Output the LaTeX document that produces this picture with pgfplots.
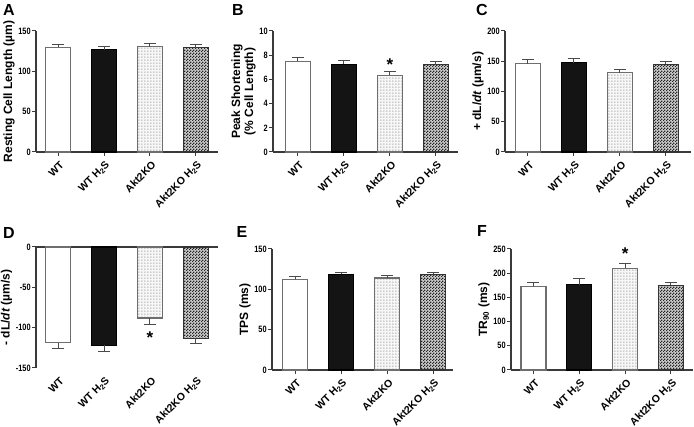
\documentclass[border=0pt]{standalone}
\usepackage{pgfplots}
\pgfplotsset{compat=1.18}
\usepackage{fontspec}
\setmainfont{Liberation Sans}
\newfontfamily\narrowfont[FakeStretch=0.8]{Liberation Sans}
\usetikzlibrary{patterns}
\definecolor{axiscol}{HTML}{3A3A3A}
\definecolor{bordercol}{HTML}{6E6E6E}
\definecolor{errcol}{HTML}{4A4A4A}
\pgfdeclarepatternformonly{finecheck}{\pgfqpoint{0pt}{0pt}}{\pgfqpoint{3pt}{3pt}}{\pgfqpoint{3pt}{3pt}}{%
  \pgfpathrectangle{\pgfqpoint{0pt}{0pt}}{\pgfqpoint{1.5pt}{1.5pt}}%
  \pgfpathrectangle{\pgfqpoint{1.5pt}{1.5pt}}{\pgfqpoint{1.5pt}{1.5pt}}%
  \pgfusepath{fill}}
\pgfdeclarepatternformonly{finedots}{\pgfqpoint{0pt}{0pt}}{\pgfqpoint{2.6pt}{2.6pt}}{\pgfqpoint{2.6pt}{2.6pt}}{%
  \pgfpathrectangle{\pgfqpoint{0.5pt}{0.5pt}}{\pgfqpoint{1pt}{1pt}}%
  \pgfusepath{fill}}
\tikzset{
  sigstar/.style={font=\bfseries\fontsize{17}{17}\selectfont},
  panelletter/.style={font=\bfseries\fontsize{16}{16}\selectfont},
}
\pgfplotsset{
  panel/.style={
    scale only axis, height=121pt,
    axis x line*=bottom, axis y line*=left,
    axis line style={color=axiscol, line width=1.1pt},
    tick align=outside, major tick length=4pt,
    tick style={color=axiscol, line width=1pt},
    xtick={0,1,2,3},
    xticklabels={WT, WT H\textsubscript{2}S, Akt2KO, Akt2KO H\textsubscript{2}S},
    xticklabel style={xshift=4pt, yshift=-7pt, rotate=45, anchor=east, inner sep=0pt, font=\bfseries\fontsize{10.5}{11}\selectfont},
    yticklabel style={font=\narrowfont\bfseries\fontsize{9.2}{9}\selectfont, inner sep=1.2pt},
    /pgf/number format/assume math mode=true,
    ylabel style={font=\bfseries\fontsize{12}{13}\selectfont, align=center, yshift=-1pt},
    enlarge y limits=false, clip=false,
  },
  bar/.style={ybar, bar width=25pt, bar shift=0pt, line width=1.1pt,
    error bars/y explicit, error bars/y dir=#1,
    error bars/error bar style={line width=1pt, color=errcol},
    error bars/error mark options={rotate=90, mark size=6pt, line width=1pt, color=errcol}},
  bar/.default=plus,
  wt/.style={draw=bordercol, fill=white},
  wth/.style={draw=black, fill=black!92},
  ko/.style={draw=bordercol, fill=gray!6, postaction={pattern=finedots, pattern color=gray!85}},
  koh/.style={draw=black!80, fill=gray!40, postaction={pattern=finecheck, pattern color=black!85}},
}
\begin{document}
\begin{tikzpicture}[x=1pt,y=1pt]
\useasboundingbox (0,0) rectangle (694,427);
% A
\begin{axis}[panel, at={(36pt,275pt)}, anchor=south west, width=182pt,
  xmin=-0.48, xmax=3.48, ymin=0, ymax=150, ytick={0,50,100,150},
  ylabel={Resting Cell Length (µm)}]
\addplot[bar, wt] coordinates {(0,129.9) +- (0,3.7)};
\addplot[bar, wth] coordinates {(1,127.0) +- (0,3.3)};
\addplot[bar, ko] coordinates {(2,130.3) +- (0,3.7)};
\addplot[bar, koh] coordinates {(3,129.5) +- (0,3.7)};
\end{axis}
% B
\begin{axis}[panel, at={(273pt,275pt)}, anchor=south west, width=185pt,
  xmin=-0.54, xmax=3.48, ymin=0, ymax=10, ytick={0,2,4,6,8,10},
  ylabel={Peak Shortening\\(\% Cell Length)}]
\addplot[bar, wt] coordinates {(0,7.5) +- (0,0.30)};
\addplot[bar, wth] coordinates {(1,7.26) +- (0,0.30)};
\addplot[bar, ko] coordinates {(2,6.33) +- (0,0.33)};
\addplot[bar, koh] coordinates {(3,7.2) +- (0,0.28)};
\node[sigstar] at (axis cs:2,7.2) {*};
\end{axis}
% C
\begin{axis}[panel, at={(505pt,275pt)}, anchor=south west, width=186pt,
  xmin=-0.5, xmax=3.55, ymin=0, ymax=200, ytick={0,50,100,150,200},
  ylabel={+ dL/\textit{dt} (µm/s)}]
\addplot[bar, wt] coordinates {(0,145.8) +- (0,6.5)};
\addplot[bar, wth] coordinates {(1,147.4) +- (0,6.6)};
\addplot[bar, ko] coordinates {(2,131) +- (0,6)};
\addplot[bar, koh] coordinates {(3,145.2) +- (0,4.6)};
\end{axis}
% D
\begin{axis}[panel, at={(36pt,59pt)}, anchor=south west, width=182pt,
  xmin=-0.48, xmax=3.48, ymin=-150, ymax=0, ytick={-150,-100,-50,0},
  x axis line style={draw=none}, xtick style={draw=none},
  ylabel={- dL/\textit{dt} (µm/s)}]
\addplot[axiscol, line width=1.1pt] coordinates {(-0.48,0) (3.48,0)};
\addplot[bar=minus, wt] coordinates {(0,-118.6) +- (0,7.4)};
\addplot[bar=minus, wth] coordinates {(1,-122) +- (0,7)};
\addplot[bar=minus, ko] coordinates {(2,-88) +- (0,7.5)};
\addplot[bar=minus, koh] coordinates {(3,-113) +- (0,6.5)};
\node[sigstar] at (axis cs:2,-112) {*};
\end{axis}
% E
\begin{axis}[panel, at={(272pt,57pt)}, anchor=south west, width=181pt,
  xmin=-0.5, xmax=3.43, ymin=0, ymax=150, ytick={0,50,100,150},
  ylabel={TPS (ms)}]
\addplot[bar, wt] coordinates {(0,112.4) +- (0,3.3)};
\addplot[bar, wth] coordinates {(1,118.6) +- (0,2.1)};
\addplot[bar, ko] coordinates {(2,114) +- (0,3)};
\addplot[bar, koh] coordinates {(3,118.6) +- (0,2.1)};
\end{axis}
% F
\begin{axis}[panel, at={(511pt,57pt)}, anchor=south west, width=182pt,
  xmin=-0.49, xmax=3.48, ymin=0, ymax=250, ytick={0,50,100,150,200,250},
  ylabel={TR\textsubscript{90} (ms)}]
\addplot[bar, wt] coordinates {(0,173) +- (0,8)};
\addplot[bar, wth] coordinates {(1,176) +- (0,13.6)};
\addplot[bar, ko] coordinates {(2,210) +- (0,11)};
\addplot[bar, koh] coordinates {(3,175) +- (0,6)};
\node[sigstar] at (axis cs:2,240) {*};
\end{axis}
% panel letters
\node[panelletter] at (9,417) {A};
\node[panelletter] at (238,417) {B};
\node[panelletter] at (482,417) {C};
\node[panelletter] at (9,194) {D};
\node[panelletter] at (242,195) {E};
\node[panelletter] at (482,196) {F};
\end{tikzpicture}
\end{document}
